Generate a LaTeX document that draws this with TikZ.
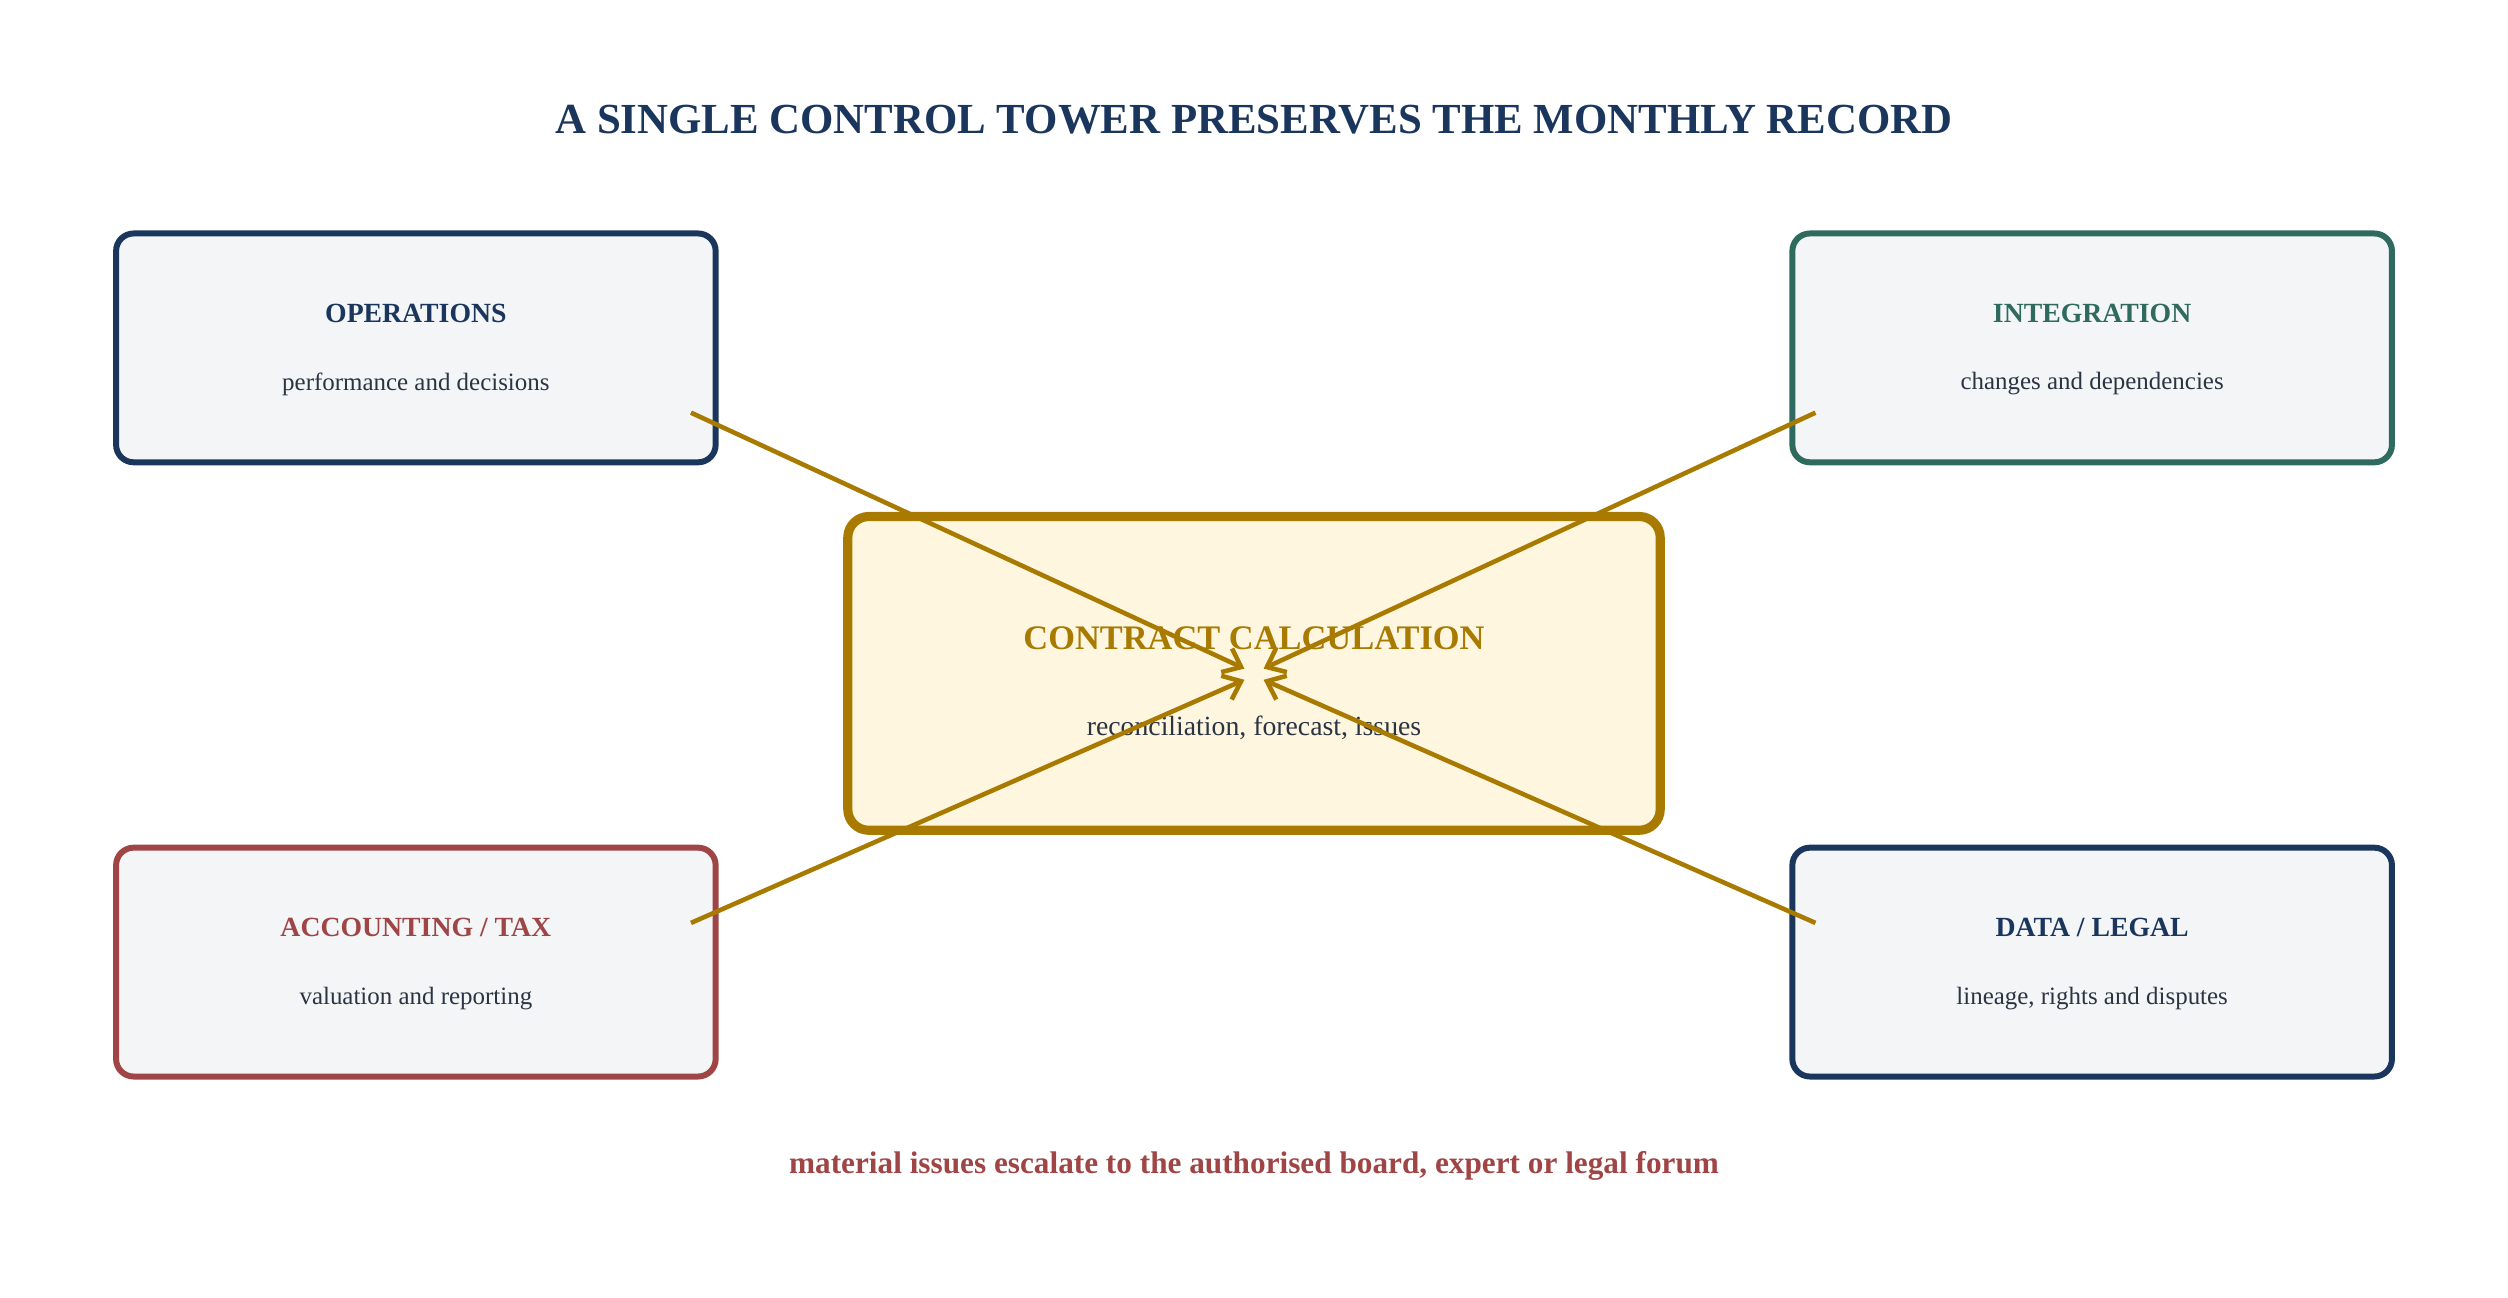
\documentclass[tikz,border=0pt]{standalone}
\usepackage{fontspec}
\setmainfont{Liberation Serif}
\usetikzlibrary{arrows.meta, positioning, calc}

\definecolor{navy}{HTML}{1B365D}
\definecolor{teal}{HTML}{2E6B5E}
\definecolor{brick}{HTML}{A04545}
\definecolor{gold}{HTML}{A87A00}
\definecolor{pale}{HTML}{F3F5F7}
\definecolor{cream}{HTML}{FFF6E0}
\definecolor{ink}{HTML}{2A3442}

\begin{document}
\begin{tikzpicture}[x=0.016cm, y=-0.016cm,
  area/.style   = {draw, line width=1.7pt, rounded corners=5pt, fill=pale,
                   minimum width=6.0cm, minimum height=2.29cm},
  hub/.style    = {draw=gold, line width=2.6pt, rounded corners=6pt, fill=cream,
                   minimum width=8.13cm, minimum height=3.14cm},
  head/.style   = {font=\fontsize{7.9}{10}\selectfont\bfseries},
  sub/.style    = {font=\fontsize{7.1}{9}\selectfont, text=ink},
  arrow/.style  = {gold, line width=1.3pt, -{Straight Barb[length=1.6mm, width=2.6mm]}}
]
\useasboundingbox (0,0) rectangle (1568,811);

%--------------------------------------------------
% title
%--------------------------------------------------
\node[font=\fontsize{12.2}{15}\selectfont\bfseries, text=navy] (title) at (784,75)
  {A SINGLE CONTROL TOWER PRESERVES THE MONTHLY RECORD};

%--------------------------------------------------
% outer areas
%--------------------------------------------------
\node[area, draw=navy]  (ops)  at (260,217.5) {};
\node[area, draw=teal]  (intg) at (1308,217.5) {};
\node[area, draw=brick] (acct) at (260,601.5) {};
\node[area, draw=navy]  (data) at (1308,601.5) {};

\node[head, text=navy]  (ops_h)  at (260,196)  {OPERATIONS};
\node[sub]              (ops_s)  at (260,240)  {performance and decisions};
\node[head, text=teal]  (intg_h) at (1308,196) {INTEGRATION};
\node[sub]              (intg_s) at (1308,240) {changes and dependencies};
\node[head, text=brick] (acct_h) at (260,580)  {ACCOUNTING / TAX};
\node[sub]              (acct_s) at (260,624)  {valuation and reporting};
\node[head, text=navy]  (data_h) at (1308,580) {DATA / LEGAL};
\node[sub]              (data_s) at (1308,624) {lineage, rights and disputes};

%--------------------------------------------------
% hub
%--------------------------------------------------
\node[hub] (calc) at (784,421) {};
\node[font=\fontsize{9.8}{12}\selectfont\bfseries, text=gold] (calc_h) at (784,399)
  {CONTRACT CALCULATION};
\node[font=\fontsize{7.9}{10}\selectfont, text=ink] (calc_s) at (784,455)
  {reconciliation, forecast, issues};

%--------------------------------------------------
% connections
%--------------------------------------------------
\coordinate (ops_o)  at (432,258);
\coordinate (intg_o) at (1135,258);
\coordinate (acct_o) at (432,577);
\coordinate (data_o) at (1135,577);
\coordinate (in_nw) at (778,418);
\coordinate (in_ne) at (790,418);
\coordinate (in_sw) at (778,425);
\coordinate (in_se) at (790,425);

\draw[arrow] (ops_o)  -- (in_nw);
\draw[arrow] (intg_o) -- (in_ne);
\draw[arrow] (acct_o) -- (in_sw);
\draw[arrow] (data_o) -- (in_se);

% footer
\node[font=\fontsize{8.9}{11}\selectfont\bfseries, text=brick] (note) at (784,729)
  {material issues escalate to the authorised board, expert or legal forum};
\end{tikzpicture}
\end{document}
